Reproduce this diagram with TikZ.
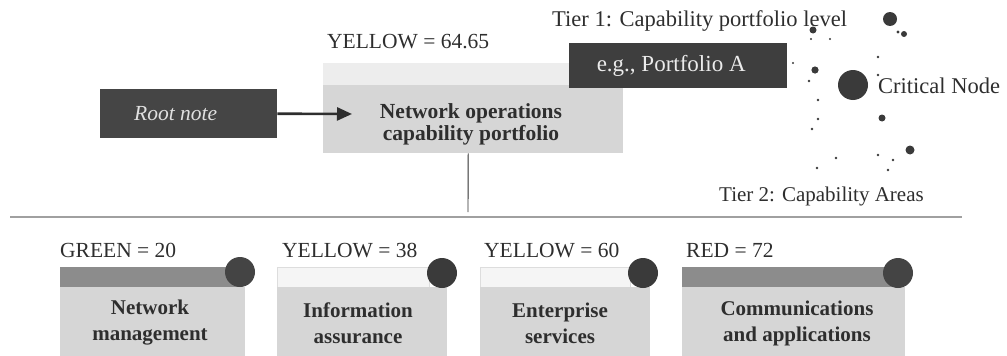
\documentclass[tikz,border=0pt]{standalone}
\usepackage{fontspec}
\setmainfont{Liberation Serif}
\usetikzlibrary{arrows.meta}
\definecolor{ink}{HTML}{2E2E2E}
\definecolor{darkbox}{HTML}{454545}
\definecolor{boxgray}{HTML}{D6D6D6}
\definecolor{stripgray}{HTML}{EDEDED}
\definecolor{barmid}{HTML}{8C8C8C}
\definecolor{barlight}{HTML}{F5F5F5}
\definecolor{barline}{HTML}{DDDDDD}
\definecolor{rulegray}{HTML}{A0A0A0}
\definecolor{dotcol}{HTML}{3A3A3A}
\tikzset{
  lbl/.style={font=\fontsize{21.5}{23}\selectfont, text=ink, inner sep=0pt, anchor=base west},
  boxtxt/.style={font=\fontsize{21}{26}\selectfont\bfseries, text=ink, align=center, inner sep=0pt},
  areabox/.style={fill=boxgray, draw=none, inner sep=0pt, anchor=north west},
  midbar/.style={fill=barmid, draw=none, inner sep=0pt, anchor=north west},
  lightbar/.style={fill=barlight, draw=barline, line width=0.6pt, inner sep=0pt, anchor=north west},
  critdot/.style={circle, fill=dotcol, draw=none, inner sep=0pt, minimum size=30pt},
  speck/.style={fill=dotcol}
}
\begin{document}
\begin{tikzpicture}[x=1pt,y=-1pt]
\useasboundingbox (0,0) rectangle (1007,356);

% root note
\node[fill=darkbox, minimum width=177pt, minimum height=49pt, inner sep=0pt, anchor=north west,
      font=\fontsize{21.5}{24}\selectfont\itshape, text=white!88!black] (root) at (100,89) {\hspace*{-26pt}Root note};

% top box
\node[areabox, minimum width=300pt, minimum height=90pt] (top) at (323,63) {};
\fill[stripgray] (top.north west) rectangle ([yshift=-22pt]top.north east);
\node[boxtxt, font=\fontsize{21.5}{22}\selectfont\bfseries] (toptext) at (471,124) {Network operations\\capability portfolio};
\node[lbl] (toplbl) at (327,48) {YELLOW = 64.65};

% e.g. Portfolio A
\node[fill=darkbox!90!black, minimum width=218pt, minimum height=45pt, inner sep=0pt, anchor=north west,
      font=\fontsize{23}{24}\selectfont, text=white!92!black] (porta) at (569,43) {e.g., Portfolio A\hspace*{14pt}};

% arrow
\coordinate (arrowend) at (352,114);
\draw[ink, line width=2.6pt, -{Triangle[length=15pt,width=13pt]}] (root.east) -- (arrowend);

% tiers
\node[lbl, font=\fontsize{22.5}{24}\selectfont] (tier1) at (552,26) {Tier 1: Capability portfolio level};
\node[critdot] (crit) at (853,85) {};
\node[lbl, font=\fontsize{22.5}{24}\selectfont] (critlbl) at (878,93) {Critical Node};
\node[lbl, font=\fontsize{21}{24}\selectfont] (tier2) at (719,201) {Tier 2: Capability Areas};

% specks
\fill[speck] (890,19) circle (7pt);
\fill[speck] (904,34) circle (3pt);
\fill[speck] (898,32) circle (1.6pt);
\fill[speck] (815,70) circle (3.6pt);
\fill[speck] (813,30) circle (3.5pt);
\fill[speck] (882,118) circle (3.5pt);
\fill[speck] (910,150) circle (4.5pt);
\fill[speck] (809,81) circle (1.4pt);
\fill[speck] (818,100) circle (1.4pt);
\fill[speck] (818,119) circle (1.4pt);
\fill[speck] (812,129) circle (1.3pt);
\fill[speck] (878,57) circle (1.3pt);
\fill[speck] (878,75) circle (1.3pt);
\fill[speck] (793,63) circle (1.2pt);
\fill[speck] (811,39) circle (1.2pt);
\fill[speck] (830,39) circle (1.2pt);
\fill[speck] (878,155) circle (1.3pt);
\fill[speck] (893,160) circle (1.3pt);
\fill[speck] (888,170) circle (1.3pt);
\fill[speck] (817,168) circle (1.3pt);
\fill[speck] (836,158) circle (1.3pt);

% connectors
\coordinate (vbot) at (468,212);
\draw[ink, line width=0.9pt] ([xshift=-5pt]top.south) -- (vbot);
\coordinate (hl) at (10,217);
\coordinate (hr) at (962,217);
\draw[rulegray, line width=1.3pt] (hl) -- (hr);

% area 1
\node[lbl] (l1) at (60,257) {GREEN = 20};
\node[midbar, minimum width=178pt, minimum height=20pt] (b1) at (60,267) {};
\node[areabox, minimum width=185pt, minimum height=70pt] (a1) at (60,287) {};
\node[critdot, fill=dotcol!85!gray] (d1) at (240,272) {};
\node[boxtxt] (t1) at (150,323) {Network\\management};

% area 2
\node[lbl] (l2) at (282,257) {YELLOW = 38};
\node[lightbar, minimum width=152pt, minimum height=20pt] (b2) at (277,267) {};
\node[areabox, minimum width=170pt, minimum height=70pt] (a2) at (277,287) {};
\node[critdot] (d2) at (442,273) {};
\node[boxtxt] (t2) at (358,323) {Information\\assurance};

% area 3
\node[lbl] (l3) at (484,257) {YELLOW = 60};
\node[lightbar, minimum width=150pt, minimum height=20pt] (b3) at (480,267) {};
\node[areabox, minimum width=170pt, minimum height=70pt] (a3) at (480,287) {};
\node[critdot] (d3) at (643,273) {};
\node[boxtxt] (t3) at (560,323) {Enterprise\\services};

% area 4
\node[lbl] (l4) at (686,257) {RED = 72};
\node[midbar, minimum width=210pt, minimum height=20pt] (b4) at (682,267) {};
\node[areabox, minimum width=223pt, minimum height=70pt] (a4) at (682,287) {};
\node[critdot, fill=dotcol!85!gray] (d4) at (898,273) {};
\node[boxtxt] (t4) at (797,323) {Communications\\and applications};
\end{tikzpicture}
\end{document}
